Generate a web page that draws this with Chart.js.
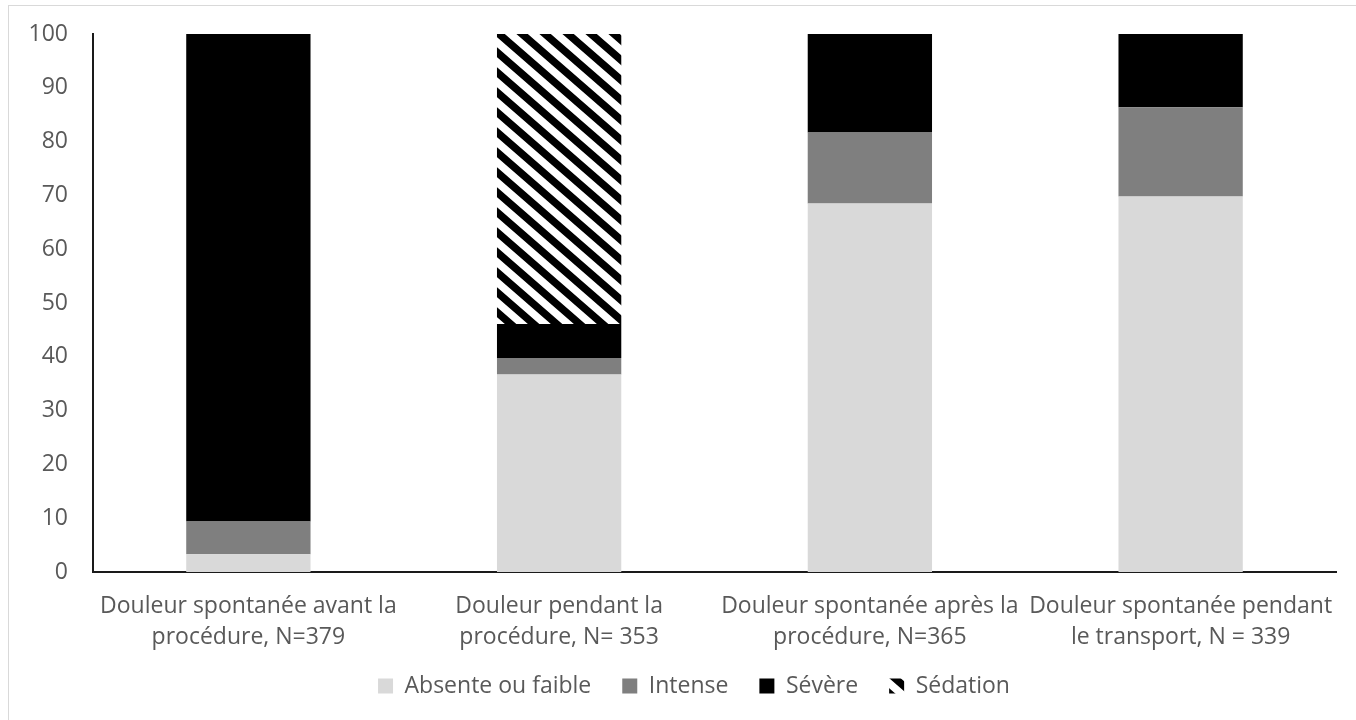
<!DOCTYPE html>
<html>
<head>
<meta charset="utf-8">
<script src="https://cdn.jsdelivr.net/npm/chart.js@4.4.1/dist/chart.umd.min.js"></script>
<style>
  html, body { margin: 0; padding: 0; background: #ffffff; overflow: hidden; }
  #wrap { position: relative; width: 1356px; height: 720px; }
  #frame { position: absolute; left: 8px; top: 5px; width: 1400px; height: 800px;
           border-left: 1px solid #d9d9d9; border-top: 1px solid #d9d9d9; pointer-events: none; }
  canvas { position: absolute; left: 0; top: 0; }
</style>
</head>
<body>
<div id="wrap">
  <canvas id="c" width="1356" height="720"></canvas>
  <div id="frame"></div>
</div>
<script>
// Pain level distribution (%) at each stage of care
const categories = [
  ["Douleur spontanée avant la", "procédure, N=379"],
  ["Douleur pendant la", "procédure, N= 353"],
  ["Douleur spontanée après la", "procédure, N=365"],
  ["Douleur spontanée pendant", "le transport, N = 339"]
];
const absenteOuFaible = [3.3, 36.7, 68.5, 69.8];
const intense = [6.1, 3.1, 13.2, 16.6];
const severe = [90.6, 6.3, 18.3, 13.6];
const sedation = [0, 53.9, 0, 0];
const seriesNames = ["Absente ou faible", "Intense", "Sévère", "Sédation"];
const yTicks = { min: 0, max: 100, step: 10 };

// Wide downward diagonal hatch for the sedation segment
function makeHatch() {
  const w = 23, h = 20;
  const tile = document.createElement('canvas');
  tile.width = w; tile.height = h;
  const t = tile.getContext('2d');
  t.fillStyle = '#ffffff';
  t.fillRect(0, 0, w, h);
  t.strokeStyle = '#000000';
  t.lineWidth = 7.5;
  t.lineCap = 'square';
  for (let o = -2; o <= 2; o++) {
    t.beginPath();
    t.moveTo(o * w - w, -h);
    t.lineTo(o * w + 2 * w, 2 * h);
    t.stroke();
  }
  return t.createPattern(tile, 'repeat');
}

// Nudges the legend row into place below the axis labels
const legendOffset = {
  id: 'legendOffset',
  afterLayout(chart) {
    const l = chart.legend;
    if (!l) return;
    l.left += 12.5; l.right += 12.5;
    l.top -= 7.5; l.bottom -= 7.5;
  }
};

const ctx = document.getElementById('c').getContext('2d');
const hatch = makeHatch();
const textColor = '#595959';
const fontFamily = "'Open Sans', 'Noto Sans', sans-serif";

new Chart(ctx, {
  type: 'bar',
  data: {
    labels: categories,
    datasets: [
      { label: seriesNames[0], data: absenteOuFaible, backgroundColor: '#d9d9d9' },
      { label: seriesNames[1], data: intense, backgroundColor: '#7f7f7f' },
      { label: seriesNames[2], data: severe, backgroundColor: '#000000' },
      { label: seriesNames[3], data: sedation, backgroundColor: hatch }
    ]
  },
  plugins: [legendOffset],
  options: {
    responsive: false,
    animation: false,
    devicePixelRatio: 1,
    layout: { padding: { left: 27, right: 20, top: 34, bottom: 5 } },
    datasets: { bar: { barPercentage: 0.4, categoryPercentage: 1.0, borderWidth: 0 } },
    plugins: {
      tooltip: { enabled: false },
      legend: {
        position: 'bottom',
        labels: {
          color: textColor,
          boxWidth: 15,
          boxHeight: 15,
          padding: 31,
          font: { family: fontFamily, size: 23 }
        }
      }
    },
    scales: {
      x: {
        stacked: true,
        grid: { display: false, drawTicks: false },
        border: { display: true, color: '#1a1a1a', width: 2 },
        ticks: {
          color: textColor,
          autoSkip: false,
          maxRotation: 0,
          minRotation: 0,
          padding: 19,
          font: { family: fontFamily, size: 23, lineHeight: 1.348 }
        },
        afterFit: (s) => { s.height = 79; }
      },
      y: {
        stacked: true,
        min: yTicks.min,
        max: yTicks.max,
        grid: { display: false, drawTicks: false },
        border: { display: true, color: '#1a1a1a', width: 2 },
        ticks: {
          stepSize: yTicks.step,
          color: textColor,
          padding: 25,
          font: { family: fontFamily, size: 23, lineHeight: 0.75 }
        },
        afterFit: (s) => { s.width = 66; }
      }
    }
  }
});
</script>
</body>
</html>
